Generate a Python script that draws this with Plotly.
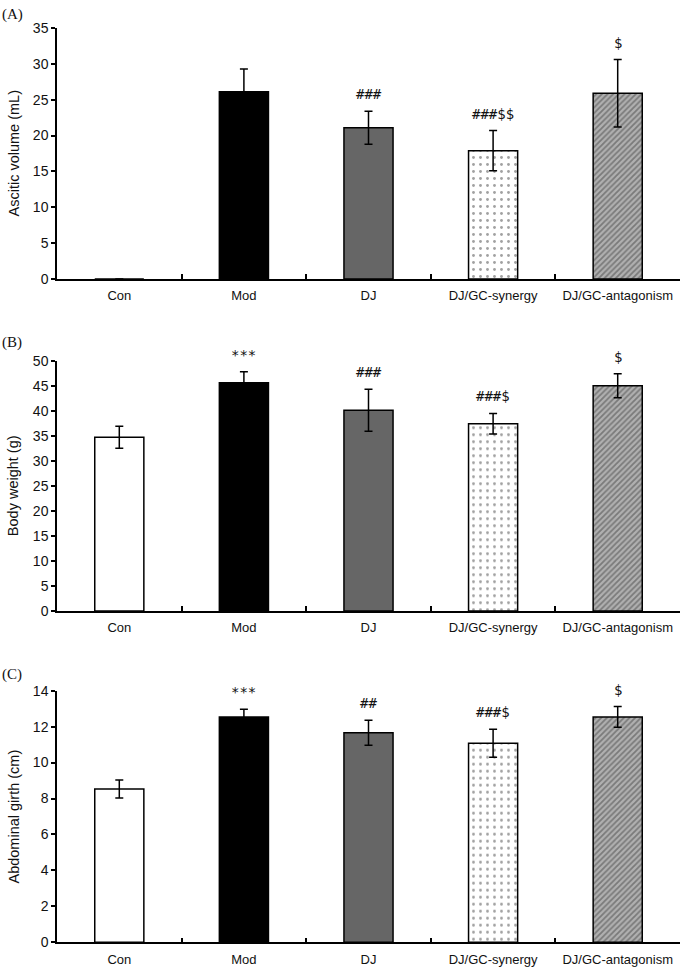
import plotly.graph_objects as go

categories = ["Con", "Mod", "DJ", "DJ/GC-synergy", "DJ/GC-antagonism"]

ascitic_mean = [0, 26.1, 21.1, 17.9, 25.9]
ascitic_sd = [None, 3.2, 2.3, 2.8, 4.7]
ascitic_sig = ["", "", "###", "###$$", "$"]

weight_mean = [34.8, 45.7, 40.2, 37.5, 45.1]
weight_sd = [2.2, 2.2, 4.2, 2.05, 2.4]
weight_sig = ["", "***", "###", "###$", "$"]

girth_mean = [8.53, 12.54, 11.66, 11.07, 12.54]
girth_sd = [0.5, 0.43, 0.7, 0.78, 0.58]
girth_sig = ["", "***", "##", "###$", "$"]

panels = [
    ("(A)", "Ascitic volume (mL)", ascitic_mean, ascitic_sd, ascitic_sig, [0, 35], 5),
    ("(B)", "Body weight (g)", weight_mean, weight_sd, weight_sig, [0, 50], 5),
    ("(C)", "Abdominal girth (cm)", girth_mean, girth_sd, girth_sig, [0, 14], 2),
]

W, H = 685, 968
px_rows = [(28, 279), (361.3, 611), (690.7, 942.3)]
x0, x1 = 57, 680
label_y = [14, 343, 674]

bar_colors = ["white", "black", "#666666", "white", "#b0b0b0"]
pat_shapes = ["", "", "", ".", "/"]
pat_fg = ["black", "black", "black", "#333333", "#222222"]
pat_size = [8, 8, 8, 7, 4]
pat_solid = [0.3, 0.3, 0.3, 0.13, 0.45]

fig = go.Figure()
sans = "Liberation Sans, Arial, sans-serif"
mono = "DejaVu Sans Mono, monospace"

for i, (lab, ytitle, mean, sd, sig, yr, dt) in enumerate(panels):
    n = i + 1
    xa = "x" if n == 1 else f"x{n}"
    ya = "y" if n == 1 else f"y{n}"
    fig.add_trace(go.Bar(
        x=categories, y=mean, xaxis=xa, yaxis=ya,
        marker=dict(color=bar_colors, line=dict(color="black", width=1.5),
                    pattern=dict(shape=pat_shapes, fgcolor=pat_fg, fillmode="overlay",
                                 size=pat_size, solidity=pat_solid)),
        error_y=dict(type="data", array=sd, visible=True, color="black",
                     thickness=1.5, width=4),
        width=0.394, showlegend=False, hoverinfo="skip",
    ))
    top, bot = px_rows[i]
    dom = [1 - bot / H, 1 - top / H]
    xkey = "xaxis" if n == 1 else f"xaxis{n}"
    ykey = "yaxis" if n == 1 else f"yaxis{n}"
    fig.layout[xkey] = dict(
        domain=[x0 / W, x1 / W], anchor=ya, type="category", automargin=False,
        range=[-0.5, 4.5], showline=True, linecolor="black", linewidth=1.5,
        ticks="inside", tickson="boundaries", ticklen=5, tickcolor="black",
        tickwidth=1.5, tickfont=dict(family=sans, size=13, color="#111"),
        ticklabelstandoff=4,
        showgrid=False, zeroline=False, fixedrange=True,
    )
    fig.layout[ykey] = dict(
        domain=dom, anchor=xa, range=yr, dtick=dt, showline=True, automargin=False,
        linecolor="black", linewidth=1.5, ticks="outside", ticklen=4,
        tickcolor="black", tickwidth=1.5,
        tickfont=dict(family=sans, size=14, color="#111"),
        showgrid=False, zeroline=False, fixedrange=True,
    )
    fig.add_annotation(
        text=ytitle, xref="paper", yref="paper", x=13 / W, y=(dom[0] + dom[1]) / 2,
        textangle=-90, showarrow=False, font=dict(family=sans, size=14.5, color="#111"),
        xanchor="center", yanchor="middle",
    )
    fig.add_annotation(
        text=lab, xref="paper", yref="paper", x=0, y=1 - label_y[i] / H,
        showarrow=False, xanchor="left", yanchor="middle",
        font=dict(family="Liberation Serif, DejaVu Serif, serif", size=15, color="#111"),
    )
    for c, m, s, t in zip(categories, mean, sd, sig):
        if t:
            fig.add_annotation(
                text=t, x=c, y=m + (s or 0), xref=xa, yref=ya, showarrow=False,
                yshift=17, yanchor="middle",
                font=dict(family=mono, size=14, color="#111"),
            )

fig.update_layout(
    template="none",
    width=W, height=H, margin=dict(l=0, r=0, t=0, b=0, pad=0, autoexpand=False),
    plot_bgcolor="white", paper_bgcolor="white", bargap=0.606,
)

fig.write_html(
    "out.html",
    config={"displayModeBar": False},
    post_script="document.body.style.margin='0';document.body.style.overflow='hidden';",
)
